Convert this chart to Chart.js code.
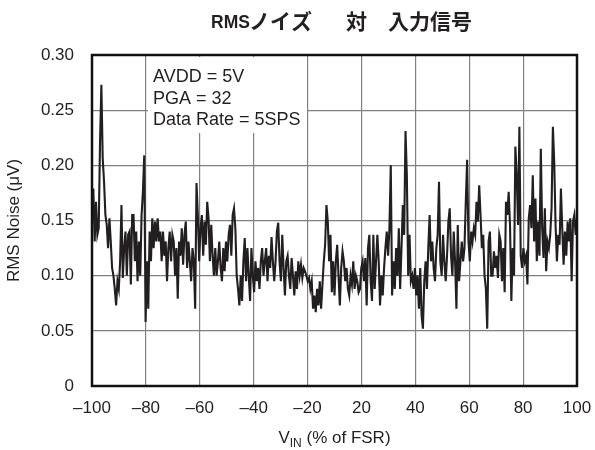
<!DOCTYPE html>
<html><head><meta charset="utf-8">
<script src="https://cdn.jsdelivr.net/npm/chart.js@4.4.1/dist/chart.umd.min.js"></script>
<style>html,body{margin:0;padding:0;background:#fff;}canvas{display:block;}</style>
</head><body>
<canvas id="c" width="595" height="450"></canvas>
<script>
const xTickLabels = ['\u2013100','\u201380','\u201360','\u201340','\u201320','20','40','60','80','100'];
const yTicks = [0, 0.05, 0.10, 0.15, 0.20, 0.25, 0.30];
const noteLines = ['AVDD = 5V', 'PGA = 32', 'Data Rate = 5SPS'];
const titleLatin = 'RMS';
const titleCJK = ['ノイズ', '対', '入力信号'];
const yTitle = 'RMS Noise (\u03bcV)';
const xTitleMain = 'V', xTitleSub = 'IN', xTitleRest = ' (% of FSR)';

// RMS noise samples, left (-100) to right (100)
const noiseA = [.161,.179,.131,.167,.137,.143,.221,.273,.206,.185,.155,.146,.125,.152,.131,.107,.100,.088,.073,.095,.088,.113,.164,.098,.125,.140,.100,.137,.140,.092,.155,.155,.113,.140,.095,.131,.100,.155,.176,.209,.058,.113,.070,.140,.113,.152,.125,.149,.131,.152,.131,.140,.113,.140,.118,.131,.095];
const noiseB = [.125,.140,.113,.137,.131,.100,.125,.079,.131,.118,.143,.110,.137,.149,.107,.131,.113,.095,.125,.113,.070,.184,.155,.113,.143,.155,.118,.149,.128,.167,.152,.113,.146,.118,.100,.125,.100,.113,.131,.107,.095,.125,.104,.131,.113,.137,.146,.118,.155,.161,.143,.100,.088,.073,.100,.077,.113,.134,.095,.125];
const noiseC = [.100,.077,.125,.100,.085,.113,.095,.107,.088,.113,.125,.100,.113,.125,.095,.118,.107,.135,.113,.095,.113,.140,.148,.113,.095,.137,.107,.082,.113,.118,.100,.088,.116,.100,.082,.104,.088,.113,.100,.110,.098,.107,.104,.100,.095,.098,.088,.095,.070,.082,.067,.088,.073,.095,.070,.092,.113,.128,.164,.149,.113,.137];
const noiseD = [.085,.113,.082,.113,.128,.100,.073,.107,.122,.113,.095,.107,.088,.082,.100,.092,.113,.088,.100,.095,.085,.088,.107,.113,.095,.116,.073,.125,.137,.095,.077,.137,.088,.113,.137,.113,.073,.100,.082,.107,.125,.140,.118,.143,.200,.082,.113,.088,.125,.100,.143,.088,.125,.164,.137,.231,.191,.100,.137,.095];
const noiseE = [.100,.088,.107,.082,.100,.070,.107,.064,.052,.095,.113,.088,.125,.155,.113,.131,.107,.095,.125,.137,.185,.113,.100,.137,.113,.095,.118,.149,.161,.118,.100,.140,.113,.070,.146,.095,.113,.131,.113,.125,.167,.205,.131,.113,.140,.131,.143,.137,.167,.149,.182,.155,.125,.137,.100,.088,.052,.131,.140,.100];
const noiseF = [.100,.122,.107,.118,.098,.137,.131,.095,.125,.085,.167,.155,.176,.146,.077,.125,.100,.217,.191,.146,.235,.118,.107,.125,.113,.118,.092,.152,.164,.143,.191,.131,.170,.113,.149,.118,.215,.143,.116,.161,.104,.131,.125,.137,.161,.235,.203,.146,.113,.137,.128,.179,.143,.110,.140,.118,.149,.131,.152,.095,.149,.155,.137,.152];

const noise = [].concat(noiseA, noiseB, noiseC, noiseD, noiseE, noiseF);
const span = xTickLabels.length - 1;
const points = noise.map((v, i) => ({ x: i * span / (noise.length - 1), y: v }));

const INK = '#231f20';
const LATIN = '"Liberation Sans", Arial, sans-serif';
const CJK = '"Noto Sans CJK JP", "Noto Sans CJK SC", sans-serif';

const decor = {
  id: 'decor',
  beforeDatasetsDraw(chart) {
    const { ctx, chartArea: a } = chart;
    ctx.save();
    const bx = a.left + 56, by = a.top + 2;
    ctx.fillStyle = '#fff';
    ctx.fillRect(bx, by, 159, 76);
    ctx.fillStyle = INK;
    ctx.font = '18px ' + LATIN;
    ctx.textBaseline = 'alphabetic';
    ctx.textAlign = 'left';
    noteLines.forEach((t, i) => ctx.fillText(t, bx + 5, a.top + 27 + i * 21.7));
    ctx.restore();
  },
  afterDraw(chart) {
    const { ctx, chartArea: a } = chart;
    ctx.save();
    ctx.strokeStyle = '#111';
    ctx.lineWidth = 2.5;
    ctx.strokeRect(a.left, a.top, a.right - a.left, a.bottom - a.top);
    ctx.fillStyle = INK;
    ctx.textBaseline = 'alphabetic';
    ctx.textAlign = 'left';
    ctx.font = 'bold 17.5px ' + LATIN;
    ctx.fillText(titleLatin, 211, 28);
    ctx.font = 'bold 21px ' + CJK;
    const cjkX = [249, 346, 388];
    titleCJK.forEach((t, i) => ctx.fillText(t, cjkX[i], 29));
    ctx.font = '17px ' + LATIN;
    const wV = ctx.measureText(xTitleMain).width;
    const wR = ctx.measureText(xTitleRest).width;
    ctx.font = '12px ' + LATIN;
    const wS = ctx.measureText(xTitleSub).width;
    const total = wV + wS + wR;
    let x0 = (a.left + a.right) / 2 - total / 2;
    const base = 443;
    ctx.font = '17px ' + LATIN;
    ctx.fillText(xTitleMain, x0, base);
    ctx.font = '12px ' + LATIN;
    ctx.fillText(xTitleSub, x0 + wV, base + 4);
    ctx.font = '17px ' + LATIN;
    ctx.fillText(xTitleRest, x0 + wV + wS, base);
    ctx.restore();
  }
};

new Chart(document.getElementById('c'), {
  type: 'line',
  data: { datasets: [{ data: points, borderColor: INK, borderWidth: 2.1, pointRadius: 0, tension: 0, fill: false }] },
  options: {
    responsive: false, animation: false, devicePixelRatio: 1,
    layout: { padding: { top: 55, right: 18, left: 0, bottom: 0 } },
    plugins: { legend: { display: false }, tooltip: { enabled: false }, title: { display: false } },
    scales: {
      x: {
        type: 'linear', min: 0, max: span,
        afterFit(s) { s.height = 64; s.paddingLeft = 0; s.paddingRight = 0; },
        ticks: { stepSize: 1, autoSkip: false, maxRotation: 0, padding: 12, color: INK,
                 font: { family: LATIN, size: 17 }, callback: v => xTickLabels[Math.round(v)] },
        grid: { color: '#808080', lineWidth: 1.2, drawTicks: false },
        border: { display: false }
      },
      y: {
        min: 0, max: 0.30,
        afterFit(s) { s.width = 92; s.paddingTop = 0; s.paddingBottom = 0; },
        afterBuildTicks(s) { s.ticks = yTicks.map(v => ({ value: v })); },
        ticks: { padding: 18, color: INK, font: { family: LATIN, size: 17 },
                 callback: v => Math.abs(v) < 1e-9 ? '0' : v.toFixed(2) },
        grid: { color: '#808080', lineWidth: 1.2, drawTicks: false },
        border: { display: false },
        title: { display: true, text: yTitle, color: INK, font: { family: LATIN, size: 17 }, padding: { top: 4, bottom: 0 } }
      }
    }
  },
  plugins: [decor]
});
</script>
</body></html>
